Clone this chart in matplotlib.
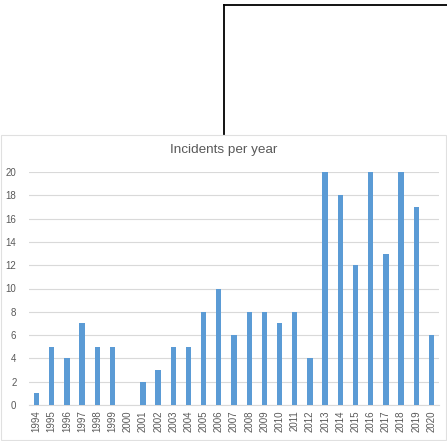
import matplotlib
matplotlib.use('Agg')
import matplotlib.pyplot as plt
from matplotlib.lines import Line2D
from matplotlib.patches import Rectangle

years = [str(y) for y in range(1994, 2021)]
incidents = [1, 5, 4, 7, 5, 5, 0, 2, 3, 5, 5, 8, 10, 6, 8, 8, 7, 8, 4,
             20, 18, 12, 20, 13, 20, 17, 6]
yticks = list(range(0, 21, 2))

W, H = 447, 441
plt.rcParams['font.family'] = ['Liberation Sans', 'DejaVu Sans']
fig = plt.figure(figsize=(W / 100, H / 100), dpi=100)

# px -> figure coords helper
def fx(x):
    return x / W
def fy(y):
    return 1 - y / H

# black frame at top right
fig.add_artist(Line2D([fx(224), fx(224)], [fy(4.5), fy(134)], color='black', lw=1.3))
fig.add_artist(Line2D([fx(224), fx(447)], [fy(4.5), fy(4.5)], color='black', lw=1.3))

# chart area border
border = Rectangle((fx(1), fy(440)), fx(445), (440 - 134.5) / H,
                   facecolor='white', edgecolor='#e0e0e0', lw=0.8, zorder=-5)
fig.add_artist(border)

ax = fig.add_axes([fx(29), fy(405), fx(439) - fx(29), (405 - 172) / H])
ax.set_zorder(2)
ax.set_facecolor('none')
x = range(len(years))
ax.bar(x, incidents, width=0.35, color='#5b9bd5', zorder=3)
ax.set_xlim(-0.5, len(years) - 0.5)
ax.set_ylim(0, 20)
ax.set_yticks(yticks)
ax.set_xticks(list(x))
ax.set_xticklabels(years, rotation=90, fontsize=7, color='#595959')
ax.tick_params(axis='y', labelsize=7, colors='#595959', length=0, pad=9)
ax.tick_params(axis='x', length=0, pad=4)
ax.grid(axis='y', color='#d9d9d9', lw=0.8, zorder=0)
for s in ['top', 'right', 'left']:
    ax.spines[s].set_visible(False)
ax.spines['bottom'].set_color('#d9d9d9')
ax.spines['bottom'].set_linewidth(0.8)

fig.text(fx(224), fy(150), 'Incidents per year', ha='center', va='center',
         fontsize=9.7, color='#595959')

fig.savefig('out.png', dpi=100)
